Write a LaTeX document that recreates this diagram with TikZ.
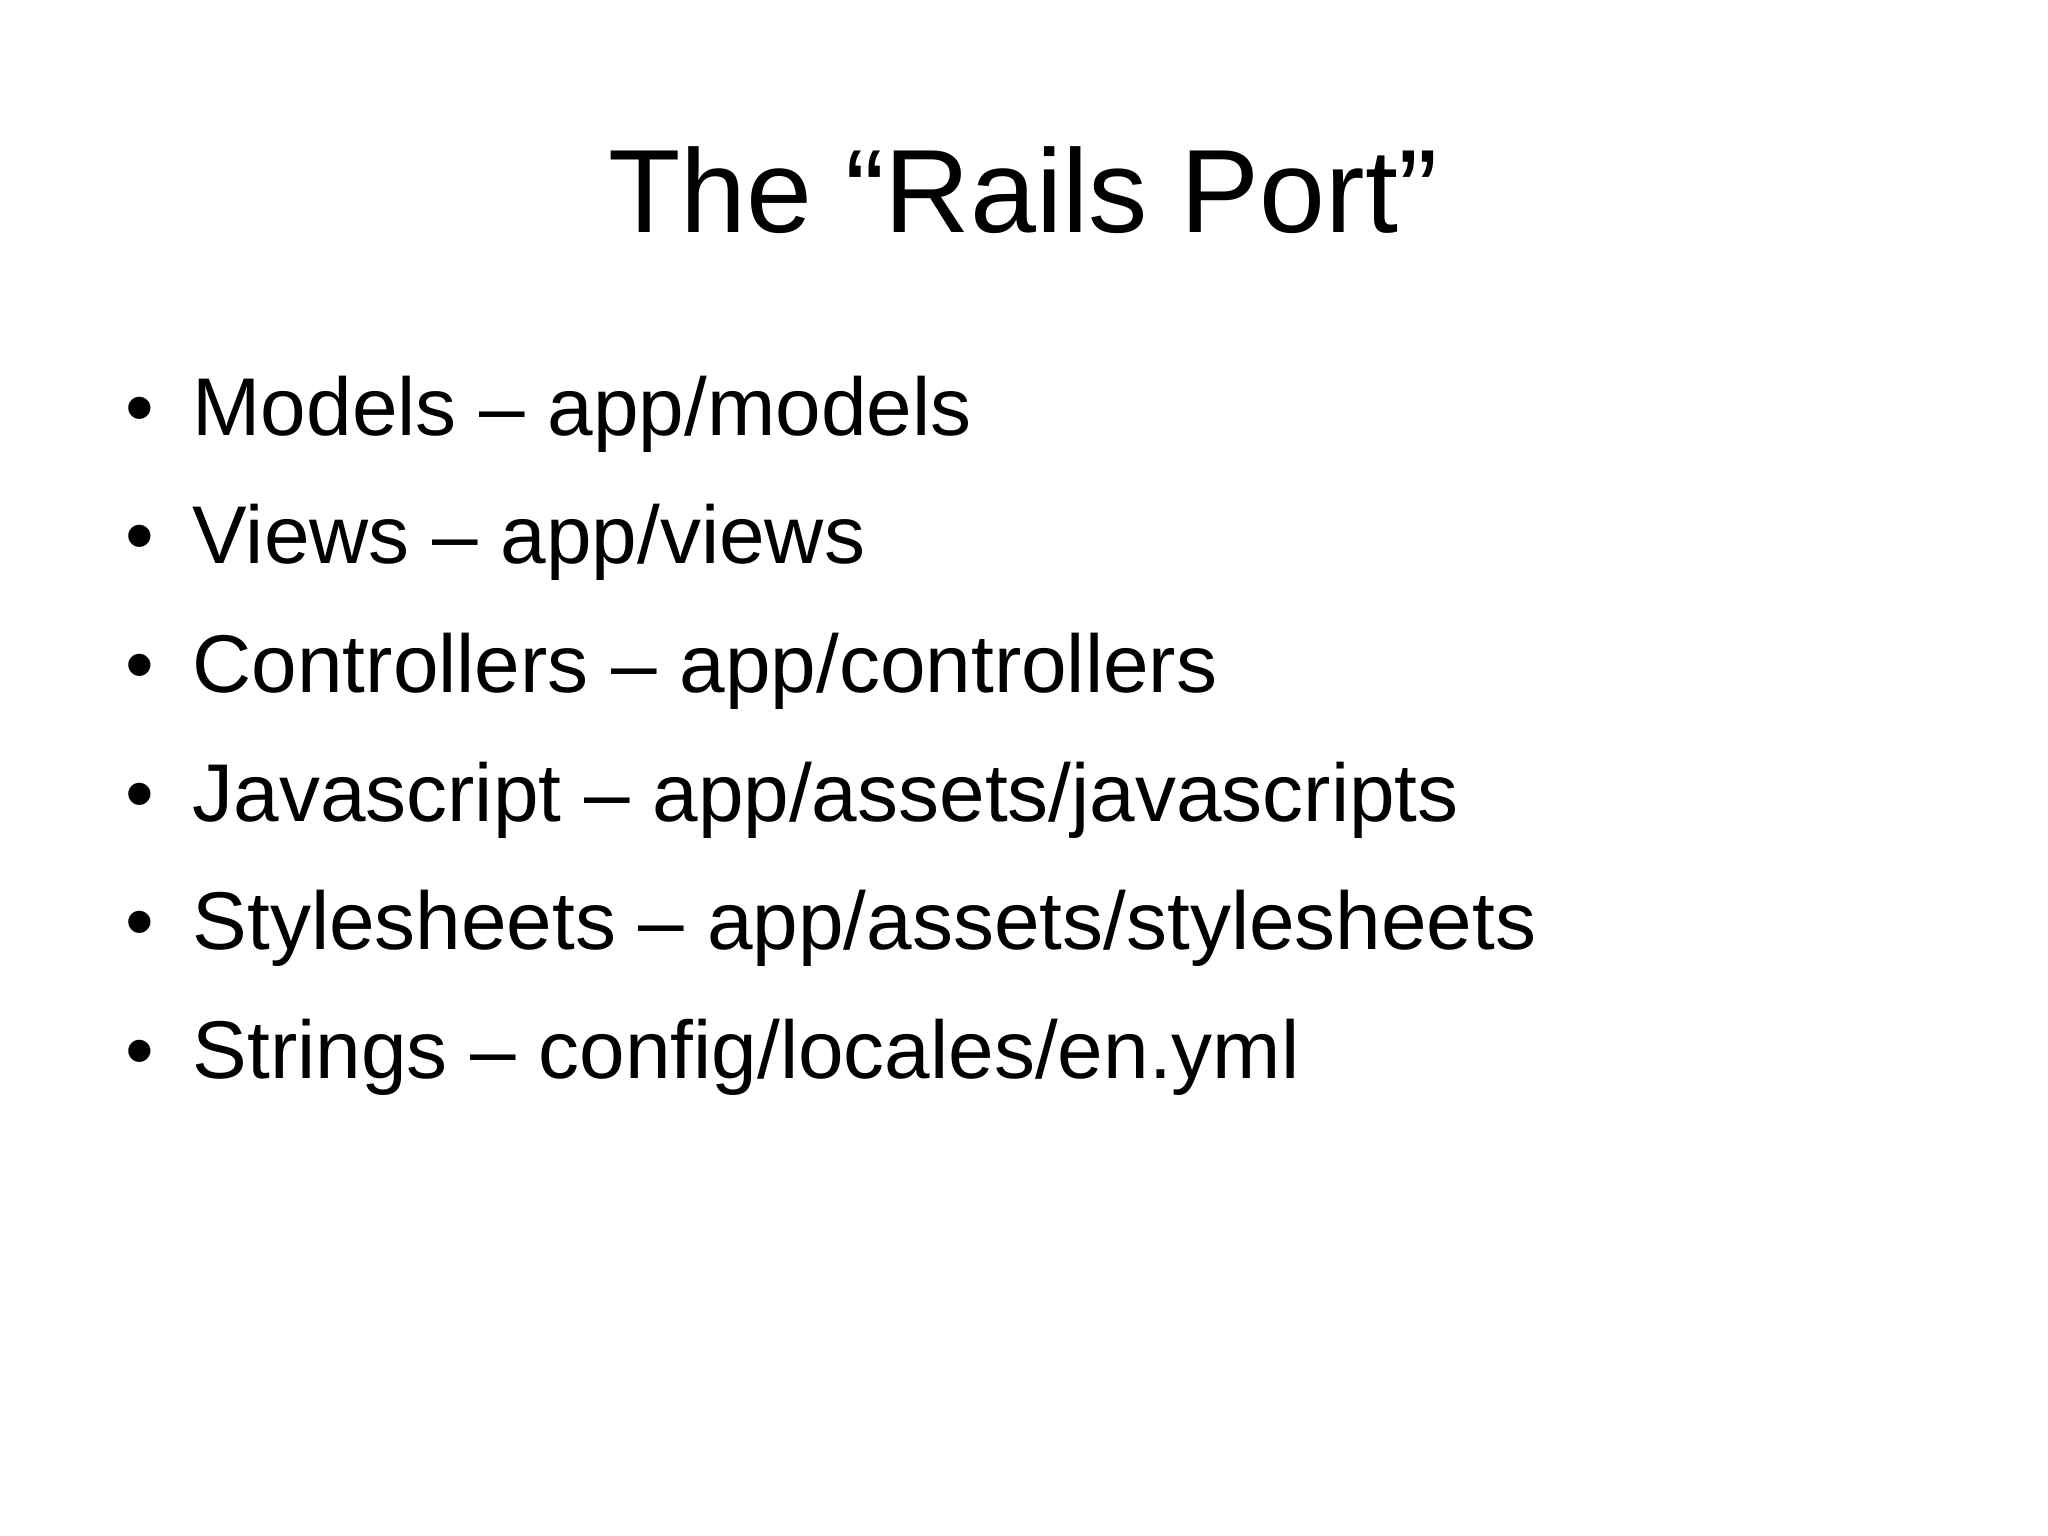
\documentclass[tikz,border=0pt]{standalone}
\usepackage{fontspec}
\setmainfont{Liberation Sans}
\begin{document}
\begin{tikzpicture}[x=0.01cm,y=-0.01cm,
  item/.style={anchor=base west,inner sep=0pt,font=\fontsize{23.3pt}{28pt}\selectfont},
  bul/.style={anchor=base west,inner sep=0pt,font=\fontsize{23.3pt}{28pt}\selectfont}]
\useasboundingbox (0,0) rectangle (2048,1535);
\node[anchor=base,inner sep=0pt,font=\fontsize{33.7pt}{40pt}\selectfont] (title) at (1023,232) {The “Rails Port”};
\foreach \t [count=\i] in {Models – app/models,Views – app/views,Controllers – app/controllers,Javascript – app/assets/javascripts,Stylesheets – app/assets/stylesheets,Strings – config/locales/en.yml}{
  \pgfmathsetmacro{\yy}{435+128.7*(\i-1)}
  \node[bul] (b\i) at (125,\yy) {•};
  \node[item] (t\i) at (192,\yy) {\t};
}
\end{tikzpicture}
\end{document}
